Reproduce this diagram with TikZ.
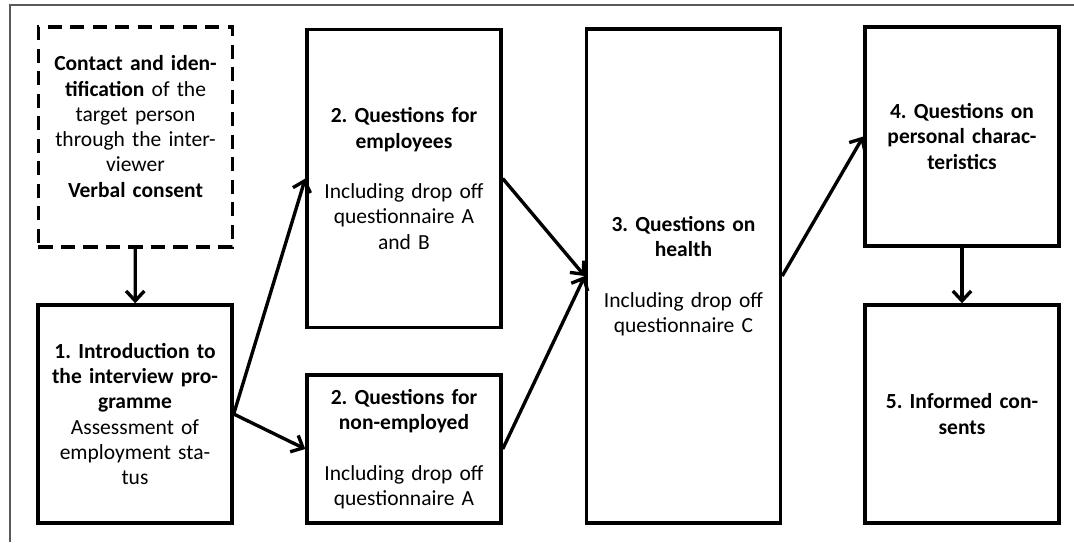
\documentclass[tikz,border=0pt]{standalone}
\usepackage{fontspec}
\setmainfont{Carlito}
\usetikzlibrary{arrows.meta}
\frenchspacing

\begin{document}
\begin{tikzpicture}[x=0.025cm, y=-0.025cm,
    stage/.style={draw, line width=2.4pt, inner sep=0pt, minimum width=4.85cm,
      text width=4.6cm, align=center, font=\fontsize{15.3}{18}\selectfont},
    flow/.style={line width=2.4pt, -{Straight Barb[length=7pt, width=13pt]}}]
  \useasboundingbox (0,0) rectangle (1074,542);

  % Outer frame
  \draw[black!65, line width=0.8pt] (10,542) -- (10,5) -- (1074,5);

  % First column
  \node[stage, dashed, dash pattern=on 10pt off 6pt, minimum height=5.5cm] (contact) at (135.5,137)
    {\textbf{Contact and iden-}\\\textbf{tification} of the\\target person\\through the inter-\\viewer\\\textbf{Verbal consent}\\[-3pt]\mbox{}};
  \node[stage, minimum height=5.45cm] (intro) at (135,414)
    {\textbf{1. Introduction to}\\\textbf{the interview pro-}\\\textbf{gramme}\\Assessment of\\employment sta-\\tus};

  % Second column
  \node[stage, minimum height=7.45cm] (employed) at (404,178.5)
    {\textbf{2. Questions for}\\\textbf{employees}\\[18pt]Including drop off\\questionnaire A\\and B};
  \node[stage, minimum height=3.7cm] (nonemployed) at (404,449)
    {\textbf{2. Questions for}\\\textbf{non-employed}\\[18pt]Including drop off\\questionnaire A};

  % Third column
  \node[stage, minimum height=12.35cm] (health) at (683.5,276)
    {\textbf{3. Questions on}\\\textbf{health}\\[18pt]Including drop off\\questionnaire C};

  % Fourth column
  \node[stage, minimum height=5.48cm] (personal) at (962,136.5)
    {\textbf{4. Questions on}\\\textbf{personal charac-}\\\textbf{teristics}};
  \node[stage, minimum height=5.45cm] (consent) at (962,414)
    {\textbf{5. Informed con-}\\\textbf{sents}};

  % Connectors
  \draw[flow] (contact) -- (intro);
  \draw[flow] (intro.east) -- (employed.west);
  \draw[flow] (intro.east) -- (nonemployed.west);
  \draw[flow] (employed.east) -- (health.west);
  \draw[flow] (nonemployed.east) -- (health.west);
  \draw[flow] (health.east) -- (personal.west);
  \draw[flow] (personal) -- (consent);
\end{tikzpicture}
\end{document}
